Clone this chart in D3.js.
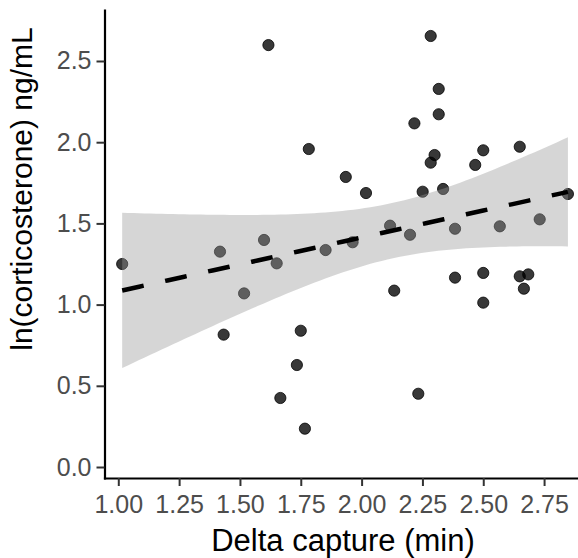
<!DOCTYPE html>
<html>
<head>
<meta charset="utf-8">
<script src="https://cdn.jsdelivr.net/npm/d3@7"></script>
<style>
  body { margin: 0; background: #fff; }
  text { font-family: "Liberation Sans", Arial, sans-serif; }
</style>
</head>
<body>
<div id="chart"></div>
<script>
// data
const captureMin = [1.016, 1.617, 1.783, 1.935, 2.018, 2.284, 2.317, 2.317, 2.217, 2.300,
  2.284, 2.500, 2.467, 2.650, 2.251, 2.335, 2.848, 2.117, 2.199, 2.384,
  2.568, 2.732, 1.418, 1.599, 1.651, 1.852, 1.517, 1.433, 1.750, 1.734,
  1.666, 1.767, 2.134, 2.384, 2.500, 2.500, 2.650, 2.685, 2.667, 2.233, 1.963];
const lnCort = [1.250, 2.598, 1.958, 1.786, 1.687, 2.654, 2.328, 2.172, 2.116, 1.921,
  1.874, 1.950, 1.860, 1.972, 1.695, 1.712, 1.681, 1.486, 1.430, 1.467,
  1.482, 1.525, 1.326, 1.398, 1.254, 1.336, 1.069, 0.815, 0.839, 0.628,
  0.425, 0.236, 1.086, 1.166, 1.195, 1.012, 1.174, 1.186, 1.098, 0.451, 1.384];

const xTicks = [1, 1.25, 1.5, 1.75, 2, 2.25, 2.5, 2.75];
const yTicks = [0, 0.5, 1, 1.5, 2, 2.5];

const margin = {top: 10, right: 0, bottom: 80, left: 104.5},
  width = 578 - margin.left - margin.right,
  height = 558 - margin.top - margin.bottom;

const svg = d3.select("#chart").append("svg")
  .attr("width", 578)
  .attr("height", 558);

const g = svg.append("g")
  .attr("transform", "translate(" + margin.left + "," + margin.top + ")");

const x = d3.scaleLinear().domain([0.9433, 2.8894]).range([0, width]);
const y = d3.scaleLinear().domain([-0.0677, 2.814]).range([height, 0]);

const data = captureMin.map((v, i) => ({x: v, y: lnCort[i]}));

// linear fit + 95% confidence band (like geom_smooth(method = "lm"))
const n = data.length;
const mx = d3.mean(data, d => d.x), my = d3.mean(data, d => d.y);
const sxx = d3.sum(data, d => (d.x - mx) ** 2);
const sxy = d3.sum(data, d => (d.x - mx) * (d.y - my));
const slope = sxy / sxx, intercept = my - slope * mx;
const sse = d3.sum(data, d => (d.y - intercept - slope * d.x) ** 2);
const s = Math.sqrt(sse / (n - 2));
const tq = 2.0227; // t(0.975, df = 39)
const xr = d3.extent(captureMin);
const fit = d3.range(80).map(i => {
  const xv = xr[0] + (xr[1] - xr[0]) * i / 79;
  const yv = intercept + slope * xv;
  const se = s * Math.sqrt(1 / n + (xv - mx) ** 2 / sxx);
  return {x: xv, y: yv, lo: yv - tq * se, hi: yv + tq * se};
});

// points first, the ribbon is drawn over them
g.selectAll("circle")
  .data(data)
  .enter()
  .append("circle")
  .attr("cx", d => x(d.x))
  .attr("cy", d => y(d.y))
  .attr("r", 5.6)
  .style("fill", "#000")
  .style("fill-opacity", 0.78)
  .style("stroke", "#000")
  .style("stroke-opacity", 0.78)
  .style("stroke-width", 1);

g.append("path")
  .datum(fit)
  .attr("d", d3.area().x(d => x(d.x)).y0(d => y(d.lo)).y1(d => y(d.hi)))
  .style("fill", "#999999")
  .style("fill-opacity", 0.4);

g.append("path")
  .datum(fit)
  .attr("d", d3.line().x(d => x(d.x)).y(d => y(d.y)))
  .style("fill", "none")
  .style("stroke", "#000")
  .style("stroke-width", 4.5)
  .style("stroke-dasharray", "22,22");

// axes
const xAxis = g.append("g")
  .attr("transform", "translate(0," + height + ")")
  .call(d3.axisBottom(x).tickValues(xTicks).tickFormat(d3.format(".2f"))
    .tickSize(8).tickSizeOuter(0).tickPadding(9));

const yAxis = g.append("g")
  .call(d3.axisLeft(y).tickValues(yTicks).tickFormat(d3.format(".1f"))
    .tickSize(8).tickSizeOuter(0).tickPadding(5));

[xAxis, yAxis].forEach(a => {
  a.select(".domain").style("stroke", "#000").style("stroke-width", 2.2)
    .style("stroke-linecap", "square");
  a.selectAll(".tick line").style("stroke", "#333").style("stroke-width", 2);
  a.selectAll(".tick text").style("fill", "#4d4d4d").style("font-size", "25px")
    .style("font-family", "'Liberation Sans', Arial, sans-serif");
});

// axis titles
svg.append("text")
  .attr("x", 343)
  .attr("y", 551)
  .attr("text-anchor", "middle")
  .style("font-size", "31px")
  .style("fill", "#000")
  .text("Delta capture (min)");

svg.append("text")
  .attr("transform", "translate(32,189) rotate(-90)")
  .attr("text-anchor", "middle")
  .style("font-size", "30px")
  .style("fill", "#000")
  .text("ln(corticosterone) ng/mL");
</script>
</body>
</html>
